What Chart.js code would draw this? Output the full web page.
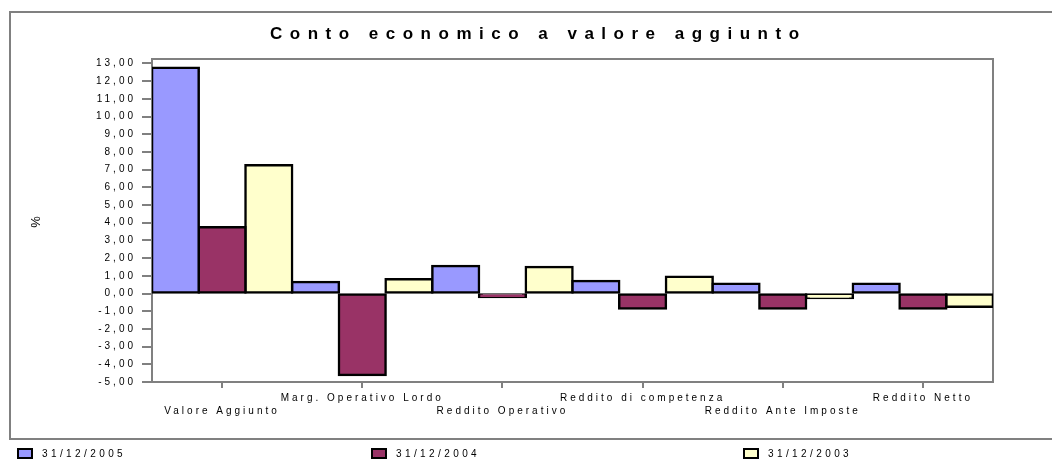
<!DOCTYPE html>
<html>
<head>
<meta charset="utf-8">
<script src="https://cdn.jsdelivr.net/npm/chart.js@4.4.1/dist/chart.umd.min.js"></script>
<style>
  html, body { margin: 0; padding: 0; background: #fff; }
  #chart { display: block; }
</style>
</head>
<body>
<canvas id="chart" width="1052" height="459"></canvas>
<script>
const titleText = "Conto economico a valore aggiunto";
const yAxisLabel = "%";
const categories = [
  "Valore Aggiunto",
  "Marg. Operativo Lordo",
  "Reddito Operativo",
  "Reddito di competenza",
  "Reddito Ante Imposte",
  "Reddito Netto"
];
const seriesNames = ["31/12/2005", "31/12/2004", "31/12/2003"];
const values2005 = [12.75, 0.65, 1.55, 0.7, 0.55, 0.55];
const values2004 = [3.75, -4.6, -0.2, -0.85, -0.85, -0.85];
const values2003 = [7.25, 0.8, 1.5, 0.95, -0.25, -0.75];
const yTickValues = [-5, -4, -3, -2, -1, 0, 1, 2, 3, 4, 5, 6, 7, 8, 9, 10, 11, 12, 13];

const seriesColors = ["#9999FF", "#993366", "#FFFFCC"];
const FONT = "'Liberation Sans', Arial, sans-serif";
const GREY = "#808080";

// spaced-out lettering like the original export
const spacing = {
  id: "spacing",
  beforeUpdate(chart) { chart.ctx.letterSpacing = "3px"; },
  beforeDraw(chart) { chart.ctx.letterSpacing = "3px"; }
};

const decor = {
  id: "decor",
  beforeDraw(chart) {
    const ctx = chart.ctx;
    ctx.save();
    ctx.fillStyle = "#fff";
    ctx.fillRect(0, 0, chart.width, chart.height);
    // outer frame
    ctx.strokeStyle = GREY;
    ctx.lineWidth = 2;
    ctx.beginPath();
    ctx.moveTo(chart.width + 2, 12);
    ctx.lineTo(10, 12);
    ctx.lineTo(10, 439);
    ctx.lineTo(chart.width + 2, 439);
    ctx.stroke();
    ctx.restore();
  },
  beforeDatasetsDraw(chart) {
    const ctx = chart.ctx;
    const a = chart.chartArea;
    ctx.save();
    ctx.strokeStyle = GREY;
    ctx.lineWidth = 2;
    ctx.beginPath();
    ctx.moveTo(a.left, a.top);
    ctx.lineTo(a.right, a.top);
    ctx.lineTo(a.right, a.bottom);
    ctx.stroke();
    ctx.restore();
  },
  afterDraw(chart) {
    const ctx = chart.ctx;
    ctx.save();
    // title
    ctx.letterSpacing = "7.5px";
    ctx.font = "bold 17px " + FONT;
    ctx.fillStyle = "#000";
    ctx.textAlign = "left";
    ctx.textBaseline = "middle";
    ctx.fillText(titleText, 270, 34);

    // legend, spread across the bottom
    ctx.letterSpacing = "3.4px";
    ctx.font = "10px " + FONT;
    const xs = [42, 396, 768];
    chart.data.datasets.forEach((ds, i) => {
      const bx = xs[i] - 24;
      ctx.fillStyle = ds.backgroundColor;
      ctx.fillRect(bx, 449, 14, 9);
      ctx.strokeStyle = "#000";
      ctx.lineWidth = 2;
      ctx.strokeRect(bx, 449, 14, 9);
      ctx.fillStyle = "#000";
      ctx.fillText(ds.label, xs[i], 454);
    });
    ctx.restore();
  }
};

const datasetValues = [values2005, values2004, values2003];

new Chart(document.getElementById("chart"), {
  type: "bar",
  data: {
    labels: categories,
    datasets: seriesNames.map((name, i) => ({
      label: name,
      data: datasetValues[i],
      backgroundColor: seriesColors[i],
      borderColor: "#000",
      borderWidth: 2.5,
      borderSkipped: false,
      inflateAmount: 1.25,
      barPercentage: 1,
      categoryPercentage: 1
    }))
  },
  options: {
    responsive: false,
    animation: false,
    layout: { padding: { left: 10, right: 59, top: 59, bottom: 37 } },
    plugins: {
      legend: { display: false },
      title: { display: false },
      tooltip: { enabled: false }
    },
    scales: {
      x: {
        afterFit: s => { s.height = 40; },
        grid: { drawOnChartArea: false, offset: false, tickLength: 6, color: GREY, lineWidth: 2 },
        border: { color: GREY, width: 2 },
        ticks: {
          color: "#000",
          font: { family: FONT, size: 10, lineHeight: 1.3 },
          maxRotation: 0,
          minRotation: 0,
          autoSkip: false,
          padding: 4,
          // alternate rows like the original
          callback: (v, i) => i % 2 === 0 ? ["", categories[i]] : [categories[i]]
        }
      },
      y: {
        min: -5,
        max: 13.25,
        afterFit: s => { s.width = 142; },
        afterBuildTicks: s => { s.ticks = yTickValues.map(v => ({ value: v })); },
        grid: { drawOnChartArea: false, tickLength: 10, color: GREY, lineWidth: 2 },
        border: { color: GREY, width: 2 },
        ticks: {
          color: "#000",
          font: { family: FONT, size: 10 },
          padding: 6,
          callback: v => v.toFixed(2).replace(".", ",")
        },
        title: {
          display: true,
          text: yAxisLabel,
          color: "#000",
          font: { family: FONT, size: 13 },
          padding: { top: 19, bottom: 0 }
        }
      }
    }
  },
  plugins: [spacing, decor]
});
</script>
</body>
</html>
